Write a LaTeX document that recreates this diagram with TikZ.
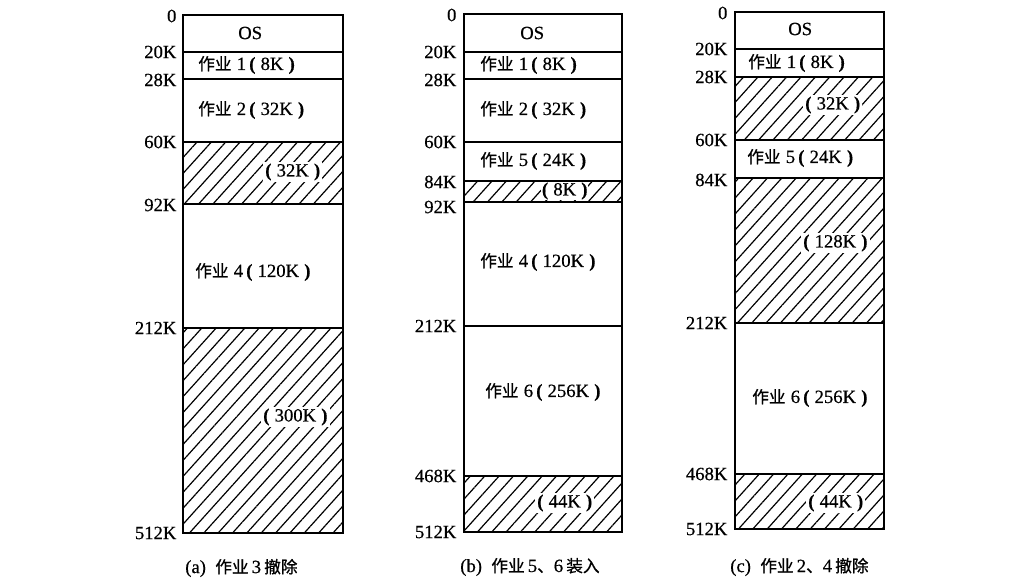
\documentclass[tikz,border=0pt]{standalone}
\usepackage{fontspec}
\setmainfont{Liberation Serif}[FakeBold=0.5]
\newfontfamily\cjk{Noto Sans CJK SC}[FakeBold=0.8]
\usetikzlibrary{patterns.meta}

\newcommand{\zh}[1]{{\cjk\fontsize{12.5}{15}\selectfont #1}}
\newcommand{\job}[2]{\zh{作业}\;#1\,\textbf{(}\;#2\;\textbf{)}}
\newcommand{\hole}[1]{\textbf{(}\;#1\;\textbf{)}}

\tikzset{
	part/.style={draw, line width=1.3pt},
	freepart/.style={part, pattern={Lines[angle=48,distance=8pt,line width=0.9pt]}},
	addr/.style={anchor=east, inner sep=1pt, font=\fontsize{14}{16}\selectfont},
	lbl/.style={anchor=west, inner sep=1.5pt, font=\fontsize{14}{16}\selectfont},
	hlbl/.style={lbl, fill=white},
	captext/.style={anchor=west, inner sep=0pt, font=\fontsize{14}{16}\selectfont}
}

\begin{document}
\begin{tikzpicture}[x=0.75pt,y=0.75pt,yscale=-1,xscale=1]
	\useasboundingbox (0,0) rectangle (1028,584);
	% (a)
	\draw[part] (183,15) rectangle (343,52);
	\draw[part] (183,52) rectangle (343,79);
	\draw[part] (183,79) rectangle (343,142);
	\draw[freepart] (183,142) rectangle (343,204);
	\draw[part] (183,204) rectangle (343,328);
	\draw[freepart] (183,328) rectangle (343,533);

	\node[lbl] (aos) at (236,33) {OS};
	\node[lbl] (ajob1) at (196,65) {\job{1}{8K}};
	\node[lbl] (ajob2) at (196,110) {\job{2}{32K}};
	\node[hlbl] (afree1) at (263,172) {\hole{32K}};
	\node[lbl] (ajob4) at (193,272) {\job{4}{120K}};
	\node[hlbl] (afree2) at (261,417) {\hole{300K}};

	\node[addr] (a0) at (178,16) {0};
	\node[addr] (a20) at (178,52) {20K};
	\node[addr] (a28) at (178,80) {28K};
	\node[addr] (a60) at (178,142) {60K};
	\node[addr] (a92) at (178,205) {92K};
	\node[addr] (a212) at (178,328) {212K};
	\node[addr] (a512) at (178,533) {512K};
	\node[captext] (acap) at (185,568) {(a)\enspace\zh{作业}\,3\,\zh{撤除}};

	% (b)
	\draw[part] (464,14) rectangle (622,52);
	\draw[part] (464,52) rectangle (622,79);
	\draw[part] (464,79) rectangle (622,142);
	\draw[part] (464,142) rectangle (622,181);
	\draw[freepart] (464,181) rectangle (622,202);
	\draw[part] (464,202) rectangle (622,326);
	\draw[part] (464,326) rectangle (622,476);
	\draw[freepart] (464,476) rectangle (622,532);

	\node[lbl] (bos) at (518,33) {OS};
	\node[lbl] (bjob1) at (478,65) {\job{1}{8K}};
	\node[lbl] (bjob2) at (478,110) {\job{2}{32K}};
	\node[lbl] (bjob5) at (478,161) {\job{5}{24K}};
	\node[hlbl, inner sep=0.5pt] (bfree1) at (541,191) {\hole{8K}};
	\node[lbl] (bjob4) at (478,262) {\job{4}{120K}};
	\node[lbl] (bjob6) at (483,392) {\job{6}{256K}};
	\node[hlbl] (bfree2) at (535,503) {\hole{44K}};

	\node[addr] (b0) at (458,15) {0};
	\node[addr] (b20) at (458,52) {20K};
	\node[addr] (b28) at (458,80) {28K};
	\node[addr] (b60) at (458,142) {60K};
	\node[addr] (b84) at (458,182) {84K};
	\node[addr] (b92) at (458,207) {92K};
	\node[addr] (b212) at (458,326) {212K};
	\node[addr] (b468) at (458,476) {468K};
	\node[addr] (b512) at (458,532) {512K};
	\node[captext] (bcap) at (460,567) {(b)\enspace\zh{作业}\,5\zh{、}6\,\zh{装入}};

	% (c)
	\draw[part] (735,12) rectangle (884,49);
	\draw[part] (735,49) rectangle (884,77);
	\draw[freepart] (735,77) rectangle (884,140);
	\draw[part] (735,140) rectangle (884,178);
	\draw[freepart] (735,178) rectangle (884,323);
	\draw[part] (735,323) rectangle (884,474);
	\draw[freepart] (735,474) rectangle (884,529);

	\node[lbl] (cos) at (786,29) {OS};
	\node[lbl] (cjob1) at (746,63) {\job{1}{8K}};
	\node[hlbl] (cfree1) at (803,105) {\hole{32K}};
	\node[lbl] (cjob5) at (745,158) {\job{5}{24K}};
	\node[hlbl] (cfree2) at (801,243) {\hole{128K}};
	\node[lbl] (cjob6) at (750,398) {\job{6}{256K}};
	\node[hlbl] (cfree3) at (806,503) {\hole{44K}};

	\node[addr] (c0) at (729,13) {0};
	\node[addr] (c20) at (729,49) {20K};
	\node[addr] (c28) at (729,77) {28K};
	\node[addr] (c60) at (729,140) {60K};
	\node[addr] (c84) at (729,180) {84K};
	\node[addr] (c212) at (729,323) {212K};
	\node[addr] (c468) at (729,474) {468K};
	\node[addr] (c512) at (729,529) {512K};
	\node[captext] (ccap) at (730,567) {(c)\enspace\zh{作业}\,2\zh{、}4\,\zh{撤除}};
\end{tikzpicture}
\end{document}
